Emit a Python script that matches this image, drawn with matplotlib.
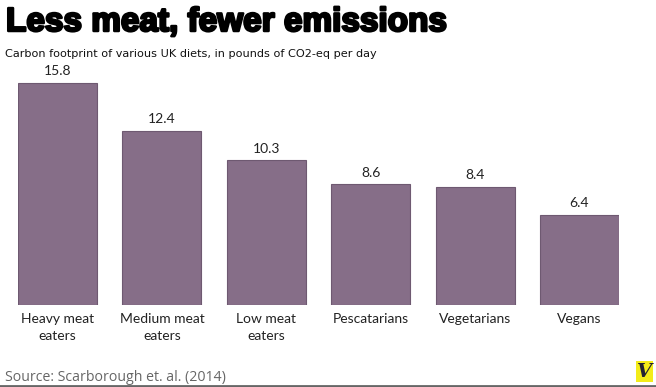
import numpy as np
import matplotlib
matplotlib.use("Agg")
import matplotlib.pyplot as plt
import matplotlib.patheffects as pe
from matplotlib.patches import Rectangle

# data
diets = ["Heavy meat\neaters", "Medium meat\neaters", "Low meat\neaters",
         "Pescatarians", "Vegetarians", "Vegans"]
co2 = [15.8, 12.4, 10.3, 8.6, 8.4, 6.4]

title = "Less meat, fewer emissions"
subtitle = "Carbon footprint of various UK diets, in pounds of CO2-eq per day"
source = "Source: Scarborough et. al. (2014)"

bar_color = "#866e88"
edge_color = "#6e5971"
W, H = 656, 387
width = 0.757


def main():
	fig = plt.figure(figsize=(W / 100, H / 100), dpi=100)
	fig.patch.set_facecolor("white")

	# axes placed in pixel terms: bars from x=18 to x=619, baseline at y=305
	left, right = 18 / W, 619 / W
	bottom = (H - 305) / H
	top = (H - (305 - 16 * 14.05)) / H
	ax = fig.add_axes([left, bottom, right - left, top - bottom])

	x = np.arange(len(diets))
	ax.bar(x, co2, width=width, color=bar_color, edgecolor=edge_color, linewidth=0.8)
	for xi, v in zip(x, co2):
		ax.text(xi, v + 0.4, f"{v:.1f}", ha="center", va="bottom",
				fontsize=10, color="#222222", family="Lato")

	ax.set_xlim(-width / 2, len(diets) - 1 + width / 2)
	ax.set_ylim(0, 16)
	ax.set_xticks(x)
	ax.set_xticklabels(diets, fontsize=10, color="#222222", family="Lato",
					   linespacing=1.5)
	ax.tick_params(axis="x", length=0, pad=6)
	ax.set_yticks([])
	for s in ax.spines.values():
		s.set_visible(False)

	fig.text(6 / W, 1 - 31 / H, title, fontsize=24, fontweight="bold",
			 family="Liberation Sans", color="black", ha="left", va="baseline",
			 path_effects=[pe.withStroke(linewidth=1.8, foreground="black")])
	fig.text(5 / W, 1 - 57 / H, subtitle, fontsize=8.1, family="DejaVu Sans",
			 color="#111111", ha="left", va="baseline")
	fig.text(5 / W, 1 - 381 / H, source, fontsize=10.2, family="Open Sans",
			 color="#666666", ha="left", va="baseline")

	# bottom rule and logo badge
	fig.add_artist(plt.Line2D([0, 1], [1 - 385.5 / H] * 2, color="#666666", lw=2,
							  transform=fig.transFigure))
	fig.add_artist(Rectangle((636 / W, 1 - 382 / H), 17 / W, 21 / H,
							 facecolor="#f3ec19", edgecolor="none",
							 transform=fig.transFigure))
	fig.text(644.5 / W, 1 - 372 / H, "V", fontsize=14, fontweight="bold",
			 fontstyle="italic", family="DejaVu Serif", color="#222233",
			 ha="center", va="center")

	fig.savefig("out.png", dpi=100)


if __name__ == '__main__':
	main()
